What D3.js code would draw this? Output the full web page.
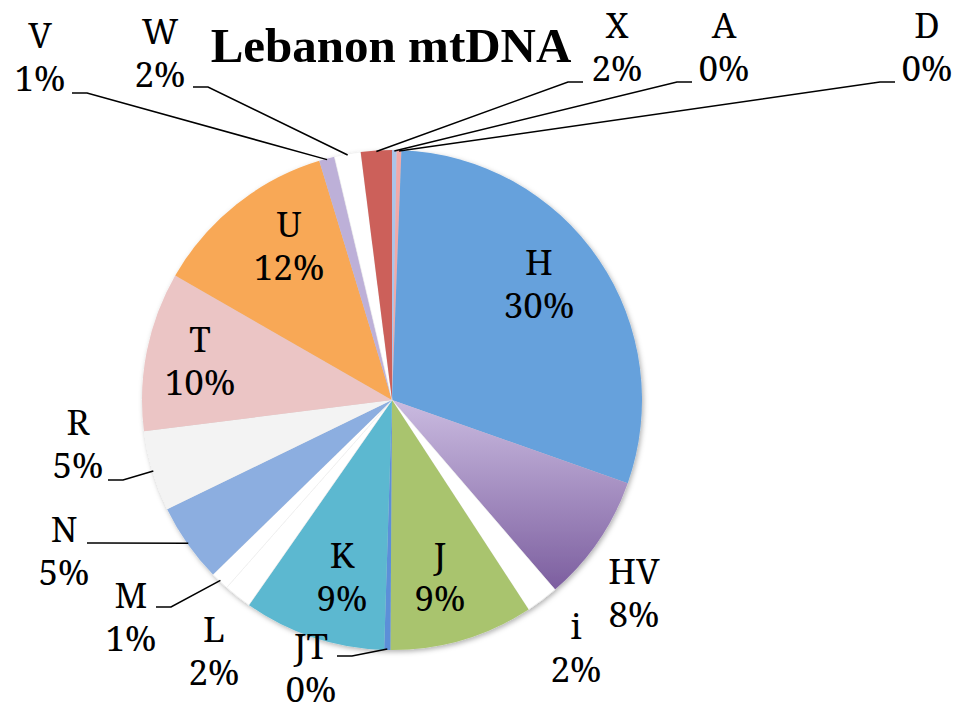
<!DOCTYPE html>
<html>
<head>
<meta charset="utf-8">
<script src="https://cdn.jsdelivr.net/npm/d3@7"></script>
<style>
  html, body { margin: 0; padding: 0; background: #ffffff; }
  svg { display: block; }
</style>
</head>
<body>
<svg id="chart" width="963" height="715"></svg>
<script>
// ---- data ----
const title = "Lebanon mtDNA";
const categories = ["A","D","H","HV","i","J","JT","K","L","M","N","R","T","U","V","W","X"];
const values     = [0.3, 0.3, 29.8, 8.3, 2.1, 9.3, 0.4, 9.2, 1.8, 1.2, 5.1, 5.2, 10.3, 12.0, 1.0, 1.7, 2.0];
const colors     = ["#abc5ea","#f0a9a9","#66a1dc","url(#hvGrad)","#ffffff","#a9c46e","#5b8fd8","#5bb8d0",
                    "#ffffff","#ffffff","#8caee0","#f3f3f3","#ebc5c5","#f8a856","#bdb0d8","#ffffff","#cc605a"];

// ---- layout (label placement: centre x, middle y; optional leader start) ----
const cx = 392, cy = 400, R = 250;
const labelLayout = {
  H:  {x: 539, y: 284},
  J:  {x: 440, y: 577},
  K:  {x: 342, y: 577},
  T:  {x: 200, y: 361},
  U:  {x: 289, y: 246},
  V:  {x: 40,  y: 57,  lead: [72, 93]},
  W:  {x: 160, y: 53,  lead: [193, 87]},
  X:  {x: 617, y: 47,  lead: [583, 82]},
  A:  {x: 724, y: 47,  lead: [692, 82]},
  D:  {x: 927, y: 47,  lead: [895, 82]},
  R:  {x: 78,  y: 444, lead: [108, 480]},
  N:  {x: 64,  y: 551, lead: [87, 543]},
  M:  {x: 131, y: 617, lead: [156, 607]},
  L:  {x: 214, y: 651},
  JT: {x: 311, y: 668, lead: [337, 656]},
  HV: {x: 634, y: 593},
  i:  {x: 576, y: 648}
};

const svg = d3.select("#chart");
const defs = svg.append("defs");
const g1 = defs.append("linearGradient").attr("id","hvGrad")
  .attr("x1",0).attr("y1",0).attr("x2",0).attr("y2",1);
g1.append("stop").attr("offset","0%").attr("stop-color","#cabbe0");
g1.append("stop").attr("offset","100%").attr("stop-color","#7c5e9f");
const f = defs.append("filter").attr("id","shadow")
  .attr("x","-10%").attr("y","-10%").attr("width","120%").attr("height","120%");
f.append("feDropShadow").attr("dx",1.5).attr("dy",2).attr("stdDeviation",2.5)
  .attr("flood-color","#000").attr("flood-opacity",0.3);

const data = categories.map((c,i) => ({cat: c, value: values[i], color: colors[i]}));
const total = d3.sum(values);
const pie = d3.pie().sort(null).value(d => d.value).startAngle(0).endAngle(2*Math.PI);
const arcs = pie(data);
const arc = d3.arc().innerRadius(0).outerRadius(R);

const gPie = svg.append("g").attr("transform", `translate(${cx},${cy})`).attr("filter","url(#shadow)");
gPie.selectAll("path").data(arcs).join("path")
  .attr("d", arc)
  .attr("fill", d => d.data.color)
  .attr("stroke", d => d.data.color === "#ffffff" ? "#ececec" : "none")
  .attr("stroke-width", 0.6);

const font = "Noto Serif";
const fs = 35;
const pctText = d => Math.round(d.value / total * 100) + "%";

function drawLabel(o, d) {
  const t = svg.append("text")
    .attr("font-family", font).attr("font-size", fs).attr("fill", "#000")
    .attr("text-anchor", "middle");
  t.append("tspan").attr("x", o.x).attr("y", o.y - 9).text(d.cat);
  t.append("tspan").attr("x", o.x).attr("y", o.y + 34).text(pctText(d));
}

const gLead = svg.append("g").attr("fill","none").attr("stroke","#000").attr("stroke-width",1.5);
arcs.forEach(a => {
  const d = a.data;
  const o = labelLayout[d.cat];
  drawLabel(o, d);
  if (o.lead) {
    const mid = (a.startAngle + a.endAngle) / 2;
    const ex = cx + Math.sin(mid) * (R - 1);
    const ey = cy - Math.cos(mid) * (R - 1);
    const dir = o.lead[0] < ex ? 1 : -1;
    const elbow = [o.lead[0] + dir * 15, o.lead[1]];
    gLead.append("path").attr("d", d3.line()([o.lead, elbow, [ex, ey]]));
  }
});

svg.append("text")
  .attr("x", 391).attr("y", 62)
  .attr("text-anchor", "middle")
  .attr("font-family", "Liberation Serif").attr("font-weight", "bold").attr("font-size", 49)
  .text(title);
</script>
</body>
</html>
